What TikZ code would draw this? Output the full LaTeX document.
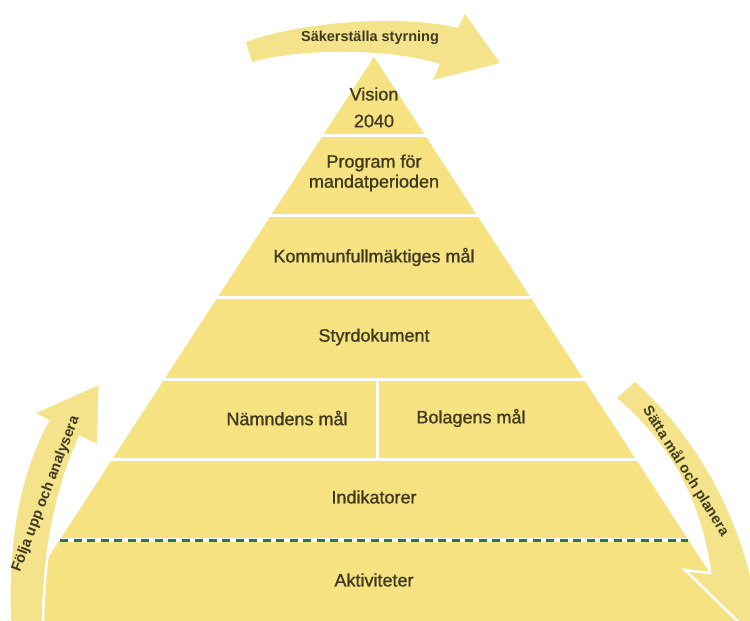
\documentclass[tikz,border=0pt]{standalone}
\usepackage{fontspec}
\setmainfont{Liberation Sans}
\newfontfamily\medfont[FakeBold=1]{Liberation Sans}
\usetikzlibrary{decorations.text}
\definecolor{pyr}{RGB}{246,226,128}
\definecolor{arr}{RGB}{245,227,140}
\definecolor{txt}{RGB}{62,58,32}
\definecolor{dashgreen}{RGB}{38,118,78}
\begin{document}
\begin{tikzpicture}[x=1pt,y=-1pt,
  lbl/.style={text=txt, font=\medfont\fontsize{18}{20}\selectfont, align=center, inner sep=0pt},
  albl/.style={text=txt, font=\bfseries\fontsize{14.5}{16}\selectfont, inner sep=0pt},
  arrowshape/.style={fill=arr, draw=white, line width=2.5pt, line join=miter},
  sep/.style={white, line width=3pt}]
\useasboundingbox (0,0) rectangle (750,621);
\clip (0,0) rectangle (750,621);
% pyramid
\coordinate (apex) at (374,57);
\coordinate (bl) at (7,621);
\coordinate (br) at (741,621);
\fill[pyr] (apex) -- (br) -- (bl) -- cycle;
\foreach \yy in {135,215,297,379,459}{
  \draw[sep] (0,\yy) -- (750,\yy);
}
\coordinate (dv1) at (377,379);
\coordinate (dv2) at (377,459);
\draw[sep] (dv1) -- (dv2);
\coordinate (dl) at (60,540);
\coordinate (dr) at (688,540);
\draw[white, line width=3.5pt] (dl) -- (dr);
\draw[dashgreen, line width=3pt, dash pattern=on 8pt off 5.5pt] (dl) -- (dr);
% labels
\node[lbl] (vis) at (374,94) {Vision};
\node[lbl] (yr) at (374,121) {2040};
\node[lbl] (prog) at (374,173) {Program för\\mandatperioden};
\node[lbl] (kf) at (374,257) {Kommunfullmäktiges mål};
\node[lbl] (sd) at (374,337) {Styrdokument};
\node[lbl] (nm) at (287,418) {Nämndens mål};
\node[lbl] (bm) at (471,418) {Bolagens mål};
\node[lbl] (ind) at (374,497) {Indikatorer};
\node[lbl] (akt) at (374,580) {Aktiviteter};
% top arrow
\fill[arr] (246,42) .. controls (300,22) and (400,14) .. (458,28) -- (465,14) -- (500,63) -- (433,80) -- (440,64) .. controls (390,48) and (300,48) .. (252,62) -- cycle;
\node[albl] (sak) at (370,38) {Säkerställa styrning};
% left arrow
\filldraw[arrowshape] (10,625) .. controls (6,540) and (20,470) .. (48,421) -- (33,413) -- (100,383) -- (98,446) -- (80,437) .. controls (60,480) and (44,540) .. (43,625) -- cycle;
\node[albl, rotate=69] (foa) at (46,494) {Följa upp och analysera};
% right arrow
\filldraw[arrowshape] (615,398) -- (635,380) .. controls (685,425) and (730,490) .. (752,578) -- (790,582) -- (757,640) -- (685,570) -- (710,573) .. controls (700,500) and (670,445) .. (615,398) -- cycle;
\node[albl, rotate=-58] (smp) at (686,471) {Sätta mål och planera};
\end{tikzpicture}
\end{document}
